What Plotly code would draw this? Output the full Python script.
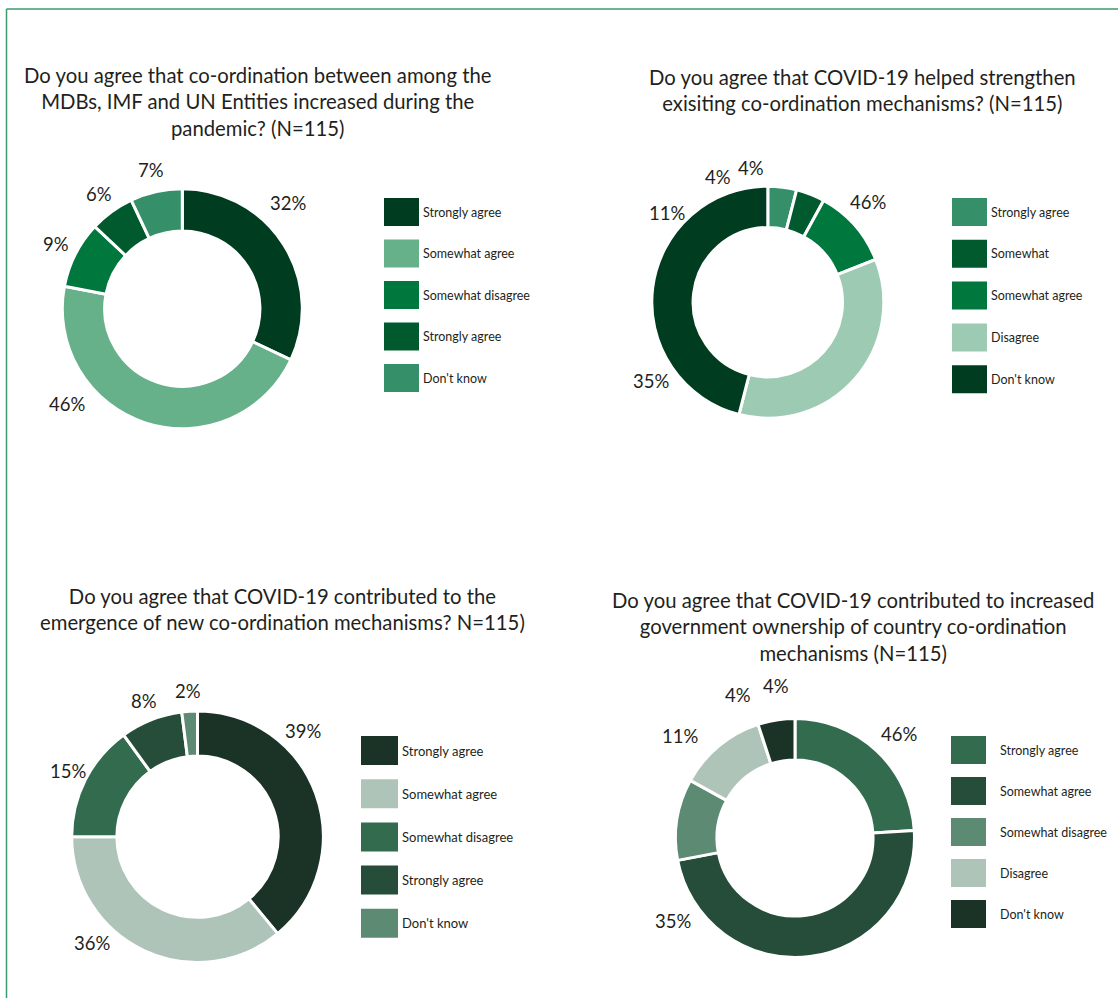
import math
import plotly.graph_objects as go

W, H = 1118, 998

# ---- survey data (N=115 for every question) ----
q1_title = "Do you agree that co-ordination between among the<br>MDBs, IMF and UN Entities increased during the<br>pandemic? (N=115)"
q1_categories = ["Strongly agree", "Somewhat agree", "Somewhat disagree", "Strongly agree", "Don't know"]
q1_values = [32, 46, 9, 6, 7]

q2_title = "Do you agree that COVID-19 helped strengthen<br>exisiting co-ordination mechanisms? (N=115)"
q2_categories = ["Strongly agree", "Somewhat", "Somewhat agree", "Disagree", "Don't know"]
q2_values = [4, 4, 11, 35, 46]

q3_title = "Do you agree that COVID-19 contributed to the<br>emergence of new co-ordination mechanisms? N=115)"
q3_categories = ["Strongly agree", "Somewhat agree", "Somewhat disagree", "Strongly agree", "Don't know"]
q3_values = [39, 36, 15, 8, 2]

q4_title = "Do you agree that COVID-19 contributed to increased<br>government ownership of country co-ordination<br>mechanisms (N=115)"
q4_categories = ["Strongly agree", "Somewhat agree", "Somewhat disagree", "Disagree", "Don't know"]
q4_values = [24, 48, 11, 12, 5]
q4_label_values = [46, 35, 11, 4, 4]

# ---- palettes ----
green_a = ["#003d20", "#66b08a", "#00773c", "#005a2d", "#35906a"]
green_b = ["#35906a", "#005a2d", "#00773c", "#9ccab3", "#003d20"]
sage_a = ["#1b3326", "#aec4b9", "#336b4f", "#264d3a", "#5c8a73"]
sage_b = ["#336b4f", "#264d3a", "#5c8a73", "#aec4b9", "#1b3326"]

FONT = "Lato, 'Open Sans', sans-serif"
TEXT = "#231f20"


def px_x(x):
    return x / W


def px_y(y):
    return 1 - y / H


def domain(cx, cy, r):
    return dict(x=[px_x(cx - r), px_x(cx + r)], y=[px_y(cy + r), px_y(cy - r)])


fig = go.Figure()
shapes = []
annotations = []


def donut(values, colors, dom, hole):
    fig.add_trace(go.Pie(
        values=values,
        sort=False,
        direction="clockwise",
        rotation=0,
        hole=hole,
        domain=dom,
        marker=dict(colors=colors, line=dict(color="white", width=3)),
        textinfo="none",
        showlegend=False,
        hoverinfo="skip",
    ))


def label_angle(start, end):
    # "best fit" angle (degrees clockwise from 12 o'clock) for a slice label:
    # keep the part of the slice lying in its dominant half (right 0-180 / left 180-360);
    # very wide parts are labelled at their nearest diagonal, others at their middle.
    right = (max(start, 0), min(end, 180))
    left = (max(start, 180), min(end, 360))
    span_r = max(0, right[1] - right[0])
    span_l = max(0, left[1] - left[0])
    lo, hi = right if span_r >= span_l else left
    mid = (lo + hi) / 2.0
    if hi - lo > 113:
        diag = [d for d in (45, 135, 225, 315) if lo < d < hi]
        if diag:
            return min(diag, key=lambda d: abs(d - mid)), True
    return mid, hi - lo > 60


def pct_labels(values, cx, cy, r_small, r_big):
    total = float(sum(values))
    acc = 0.0
    for v in values:
        start = acc / total * 360.0
        end = (acc + v) / total * 360.0
        acc += v
        ang, wide = label_angle(start, end)
        radius = r_big if wide else r_small
        a = math.radians(ang)
        annotations.append(dict(
            x=px_x(cx + radius * math.sin(a)), y=px_y(cy - radius * math.cos(a)),
            xref="paper", yref="paper", xanchor="center", yanchor="middle",
            showarrow=False, text=f"{v}%",
            font=dict(family=FONT, size=18.5, color=TEXT)))


C1, R1 = (182.3, 308.7), 120
C2, R2 = (767.8, 302.2), 116
C3, R3 = (197.5, 836.7), 125.8
C4, R4 = (795.0, 838.0), 119.5

donut(q1_values, green_a, domain(*C1, R1), 0.647)
donut(q2_values, green_b, domain(*C2, R2), 0.644)
donut(q3_values, sage_a, domain(*C3, R3), 0.641)
donut(q4_values, sage_b, domain(*C4, R4), 0.653)

pct_labels(q1_values, *C1, R1 + 22, R1 + 29)
pct_labels(q2_values[::-1], *C2, R2 + 19, R2 + 25)
pct_labels(q3_values, *C3, R3 + 20, R3 + 24)
pct_labels(q4_label_values, *C4, R4 + 34, R4 + 28)


def legend(categories, colors, x0, y0, sw, sh, step, text_x, size):
    for i, (name, col) in enumerate(zip(categories, colors)):
        top = y0 + i * step
        shapes.append(dict(type="rect", xref="paper", yref="paper",
                           x0=px_x(x0), x1=px_x(x0 + sw),
                           y0=px_y(top + sh), y1=px_y(top),
                           fillcolor=col, line=dict(width=0)))
        annotations.append(dict(x=px_x(text_x), y=px_y(top + sh / 2), xref="paper", yref="paper",
                                xanchor="left", yanchor="middle", showarrow=False,
                                text=name, font=dict(family=FONT, size=size, color=TEXT)))


legend(q1_categories, green_a, 384, 198, 35, 28, 41.5, 421, 12.5)
legend(q2_categories, green_b, 952, 198, 35, 28, 41.8, 989, 12.5)
legend(q3_categories, sage_a, 361, 736, 37, 29, 43.2, 400, 13)
legend(q4_categories, sage_b, 951, 736, 35, 28, 41.0, 998, 12.5)


def title(text, cx, cy):
    annotations.append(dict(x=px_x(cx), y=px_y(cy), xref="paper", yref="paper",
                            xanchor="center", yanchor="middle", showarrow=False,
                            align="center", text=text,
                            font=dict(family=FONT, size=20.3, color=TEXT)))


title(q1_title, 257, 102)
title(q2_title, 862, 90)
title(q3_title, 282, 609)
title(q4_title, 853, 626)

# frame lines along the top and left edges
shapes.append(dict(type="line", xref="paper", yref="paper",
                   x0=px_x(6.5), x1=1, y0=px_y(9), y1=px_y(9),
                   line=dict(color="#3b9a6b", width=1.5)))
shapes.append(dict(type="line", xref="paper", yref="paper",
                   x0=px_x(6.5), x1=px_x(6.5), y0=0, y1=px_y(9),
                   line=dict(color="#3b9a6b", width=1.5)))

fig.update_layout(
    width=W, height=H,
    margin=dict(l=0, r=0, t=0, b=0),
    paper_bgcolor="white",
    plot_bgcolor="white",
    shapes=shapes,
    annotations=annotations,
    font=dict(family=FONT, color=TEXT),
)

fig.write_html("out.html")
